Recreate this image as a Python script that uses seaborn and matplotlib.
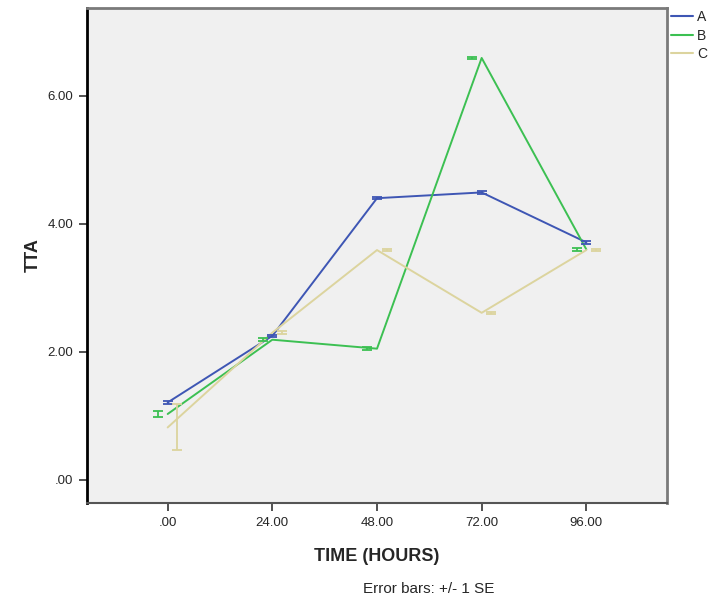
import matplotlib
matplotlib.use("Agg")
import matplotlib.pyplot as plt
import numpy as np
import pandas as pd
import seaborn as sns

sns.set_style("white")
plt.rcParams["font.family"] = ["Liberation Sans", "DejaVu Sans"]

# data
time_hours = [0, 24, 48, 72, 96]
groups = ["A", "B", "C"]
tta_a = [1.21, 2.25, 4.40, 4.49, 3.71]
tta_b = [1.03, 2.19, 2.05, 6.59, 3.60]
tta_c = [0.82, 2.30, 3.59, 2.61, 3.59]
se_a = [0.02, 0.02, 0.02, 0.02, 0.02]
se_b = [0.04, 0.02, 0.02, 0.02, 0.02]
se_c = [0.36, 0.02, 0.02, 0.02, 0.02]
x_ticks = [0, 24, 48, 72, 96]
x_tick_labels = [".00", "24.00", "48.00", "72.00", "96.00"]
y_ticks = [0, 2, 4, 6]
y_tick_labels = [".00", "2.00", "4.00", "6.00"]

colors = {"A": "#3e56b4", "B": "#3cc052", "C": "#dcd49e"}
dodge = {"A": 0.0, "B": -2.2, "C": 2.2}

means = {"A": tta_a, "B": tta_b, "C": tta_c}
ses = {"A": se_a, "B": se_b, "C": se_c}

df = pd.DataFrame({
    "time": time_hours * 3,
    "tta": tta_a + tta_b + tta_c,
    "group": [g for g in groups for _ in time_hours],
})

fig = plt.figure(figsize=(7.14, 5.98), dpi=100)
ax = fig.add_axes([87 / 714, 1 - 503 / 598, 580 / 714, 495 / 598])
ax.set_facecolor("#f0f0f0")

sns.lineplot(data=df, x="time", y="tta", hue="group", palette=colors,
             errorbar=None, linewidth=1.4, ax=ax, legend=False)

for g in groups:
    ax.errorbar(np.array(time_hours) + dodge[g], means[g], yerr=ses[g],
                fmt="none", ecolor=colors[g], elinewidth=1.3,
                capsize=3.8, capthick=1.3)

ax.set_xlim(-18.5, 114.5)
ax.set_ylim(-0.36, 7.37)
ax.set_xticks(x_ticks)
ax.set_xticklabels(x_tick_labels, fontsize=9.5)
ax.set_yticks(y_ticks)
ax.set_yticklabels(y_tick_labels, fontsize=9.5)
ax.tick_params(axis="both", direction="out", length=6, width=1.2,
               color="#333333", pad=4, left=True, bottom=True)
ax.grid(False)

for side in ["top", "right"]:
    ax.spines[side].set_color("#7a7a7a")
    ax.spines[side].set_linewidth(2)
ax.spines["left"].set_color("black")
ax.spines["left"].set_linewidth(2)
ax.spines["bottom"].set_color("#555555")
ax.spines["bottom"].set_linewidth(1.5)

ax.set_xlabel("TIME (HOURS)", fontsize=13, fontweight="bold", labelpad=14)
ax.set_ylabel("TTA", fontsize=13, fontweight="bold", labelpad=4)

handles = [plt.Line2D([], [], color=colors[g], linewidth=1.5) for g in groups]
fig.legend(handles, groups, loc="upper left", bbox_to_anchor=(665 / 714, 0.992),
           frameon=False, fontsize=10, handlelength=1.6, handletextpad=0.3,
           labelspacing=0.3, borderaxespad=0.2, borderpad=0.2)

fig.text(0.6, 1 - 589 / 598, "Error bars: +/- 1 SE", ha="center", va="center",
         fontsize=11)

fig.savefig("out.png", dpi=100)
